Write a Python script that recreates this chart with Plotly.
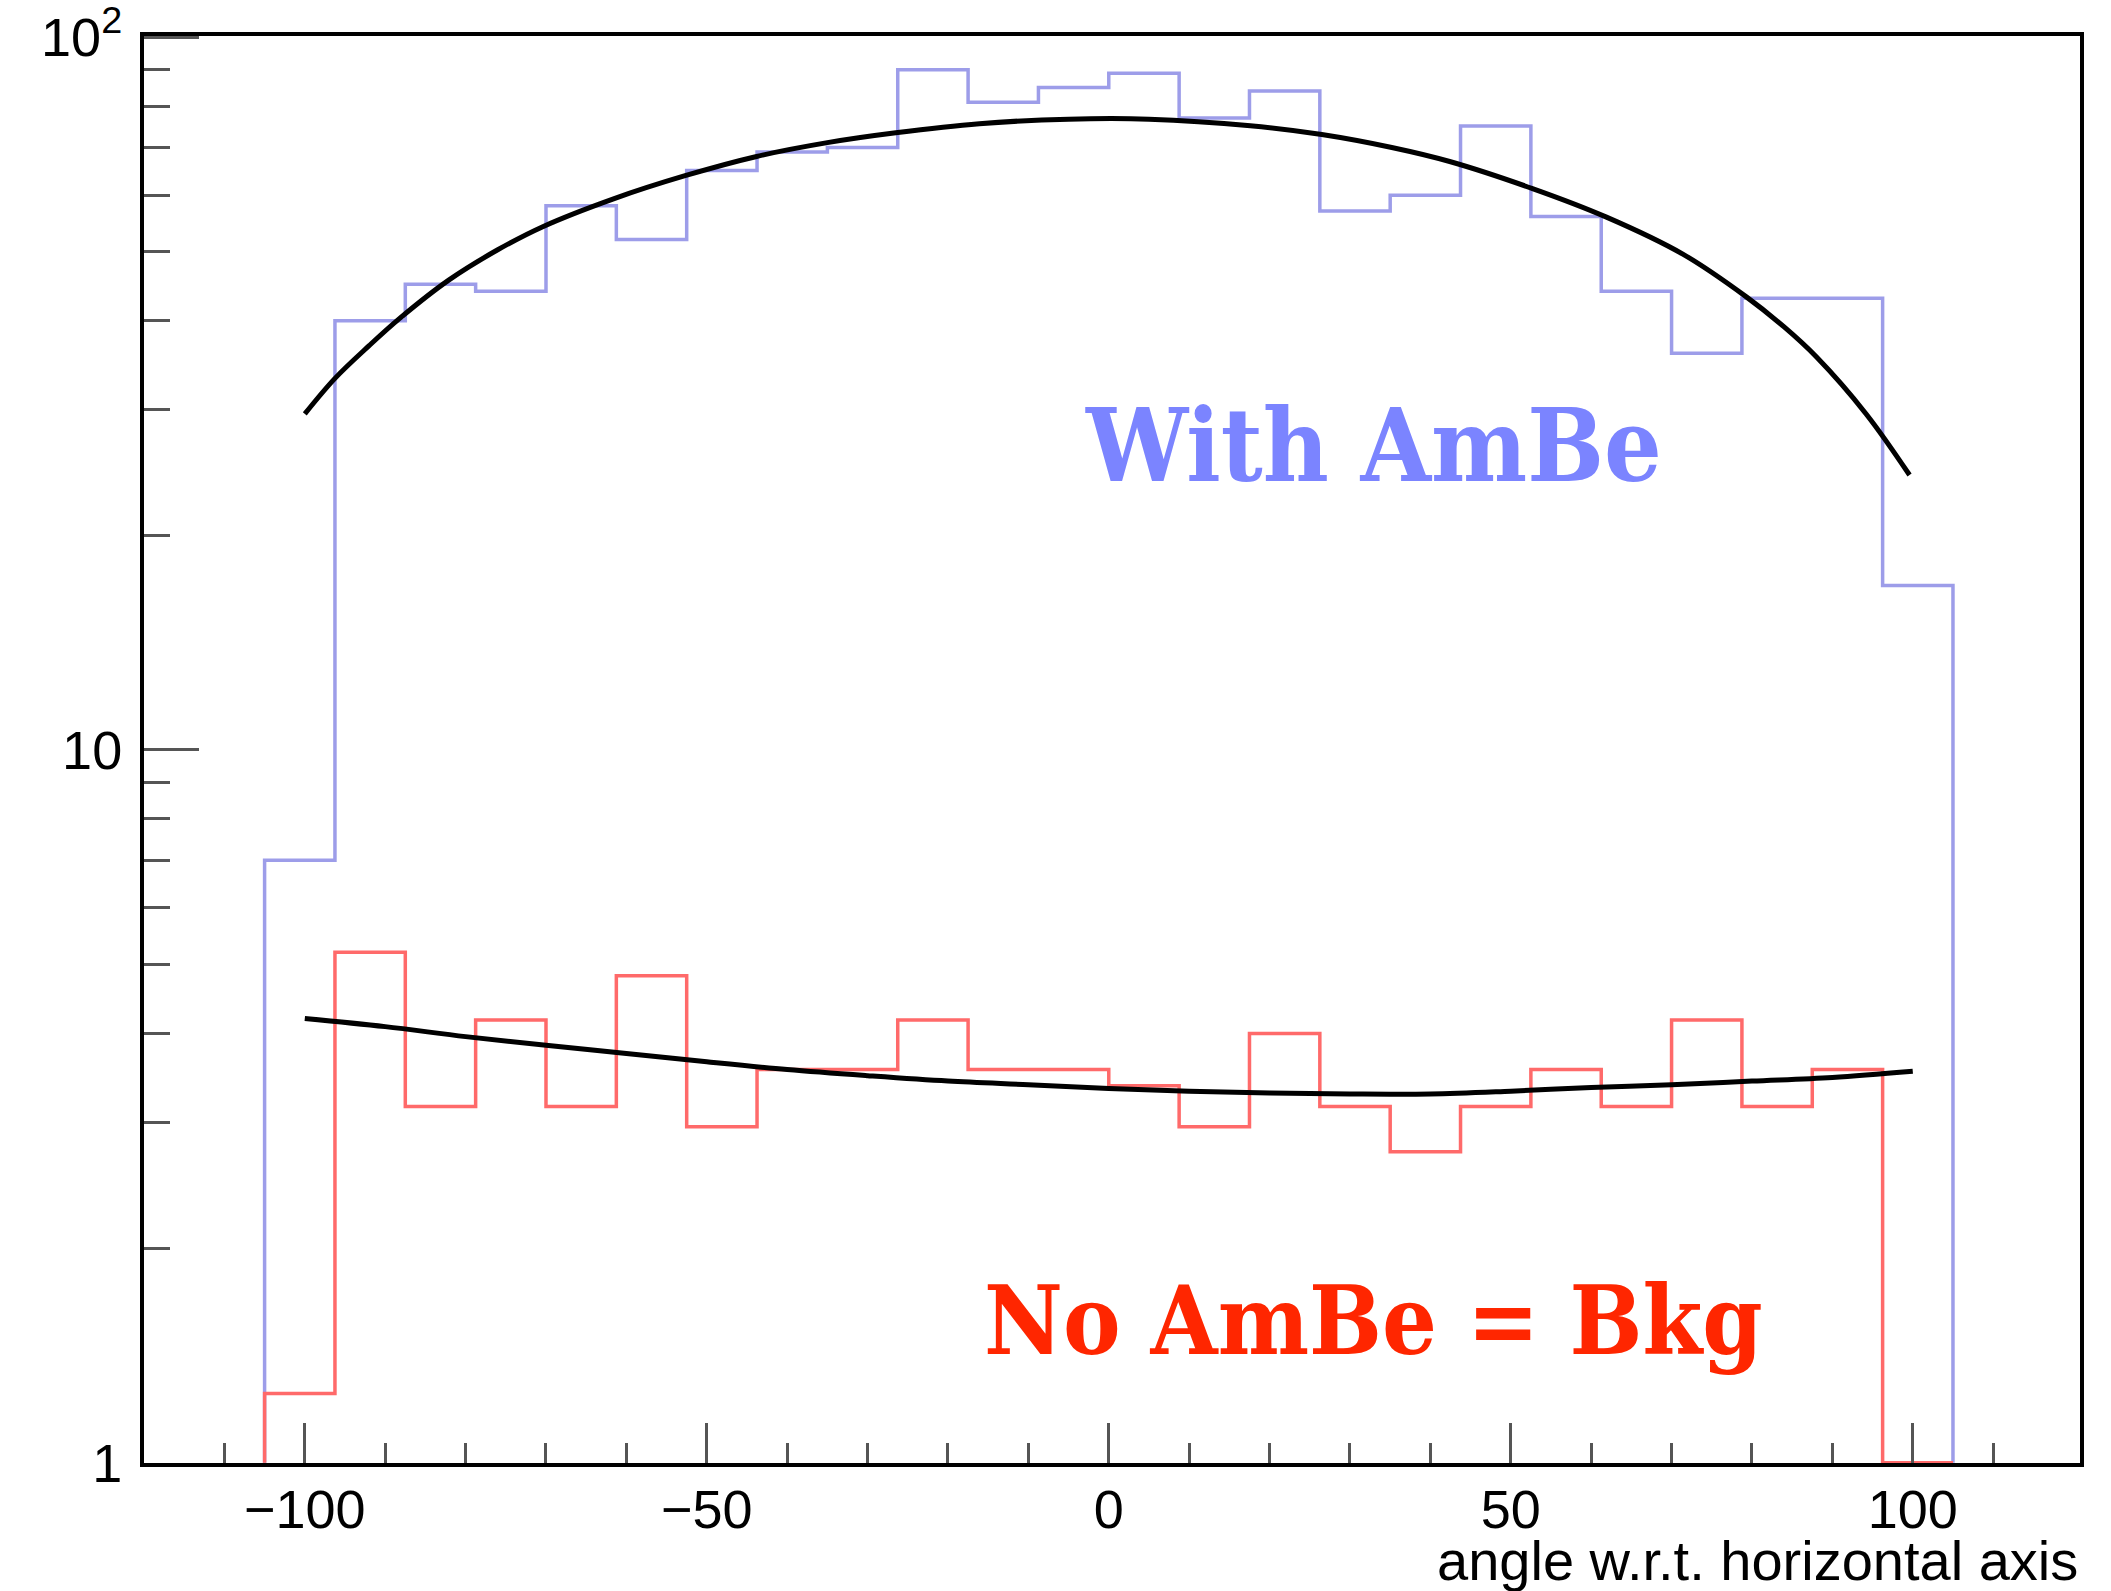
import numpy as np
import plotly.graph_objects as go

# ---------------- data ----------------
bin_edges = np.linspace(-105, 105, 25)  # 24 bins of 8.75 deg

with_ambe = [7, 40, 45, 44, 58, 52, 65, 69, 70, 90, 81, 85,
             89, 77, 84, 57, 60, 75, 56, 44, 36, 43, 43, 17]
no_ambe = [1.25, 5.2, 3.16, 4.18, 3.16, 4.82, 2.96, 3.56, 3.56, 4.18, 3.56, 3.56,
           3.38, 2.96, 4.0, 3.16, 2.73, 3.16, 3.56, 3.16, 4.18, 3.16, 3.56, 0]

fit_with_x = [-100, -96.25, -92, -88.2, -82.1, -76, -70.4, -61.6, -52.7, -43.8, -35, -26.5, -16.1, -5,
              5, 17.6, 26.5, 35.2, 42.4, 52.7, 61.9, 71.4, 79.3, 84, 88.0, 94.2, 99.6]
fit_with_y = [29.6, 33.2, 36.9, 40.3, 45.6, 50.3, 54.2, 59.3, 63.9, 68.0, 71.1, 73.4, 75.6, 76.7,
              76.7, 75.1, 73.0, 70.0, 66.9, 61.3, 55.9, 49.6, 43.2, 39.2, 35.6, 29.6, 24.3]

fit_bkg_x = [-100, -90, -80, -70, -60, -50, -40, -30, -20, -10, 0,
             10, 20, 30, 40, 50, 60, 70, 80, 90, 100]
fit_bkg_y = [4.20, 4.09, 3.96, 3.85, 3.75, 3.65, 3.56, 3.49, 3.43, 3.39, 3.35,
             3.32, 3.30, 3.29, 3.29, 3.32, 3.36, 3.39, 3.43, 3.47, 3.54]

x_major = [-100, -50, 0, 50, 100]
x_major_text = ["\u2212100", "\u221250", "0", "50", "100"]
x_minor = [-110, -90, -80, -70, -60, -40, -30, -20, -10,
           10, 20, 30, 40, 60, 70, 80, 90, 110]
y_major = [1, 10, 100]
y_major_text = ["1", "10", "10<sup>2</sup>"]
y_minor = [2, 3, 4, 5, 6, 7, 8, 9, 20, 30, 40, 50, 60, 70, 80, 90]

label_with = "With AmBe"
label_bkg = "No AmBe = Bkg"
x_title = "angle w.r.t. horizontal axis"

Y_FLOOR = 1.0


def step_xy(edges, vals):
    xs = [edges[0]] + list(edges[:-1]) + [edges[-1]]
    ys = [Y_FLOOR] + [max(v, Y_FLOOR) for v in vals] + [Y_FLOOR]
    return xs, ys


fig = go.Figure()

bx, by = step_xy(bin_edges, with_ambe)
fig.add_trace(go.Scatter(x=bx, y=by, mode="lines", line=dict(shape="hv", color="#9d9de9", width=3.5),
                         showlegend=False))
rx, ry = step_xy(bin_edges, no_ambe)
fig.add_trace(go.Scatter(x=rx, y=ry, mode="lines", line=dict(shape="hv", color="#ff6a6a", width=3.5),
                         showlegend=False))
fig.add_trace(go.Scatter(x=fit_with_x, y=fit_with_y, mode="lines",
                         line=dict(shape="spline", smoothing=1.0, color="black", width=5), showlegend=False))
fig.add_trace(go.Scatter(x=fit_bkg_x, y=fit_bkg_y, mode="lines",
                         line=dict(shape="spline", color="black", width=5), showlegend=False))

tick_font = dict(family="Liberation Sans, Arial, sans-serif", size=54, color="black")

fig.update_xaxes(range=[-120, 120.8], showgrid=False, zeroline=False, automargin=False,
                 showline=True, linecolor="black", linewidth=4, mirror=True,
                 tickmode="array", tickvals=x_major, ticktext=x_major_text,
                 ticks="inside", ticklen=40, tickwidth=3, tickcolor="#555",
                 minor=dict(tickmode="array", tickvals=x_minor, ticks="inside",
                            ticklen=20, tickwidth=3, tickcolor="#555", showgrid=False),
                 tickfont=tick_font, ticklabelstandoff=-4)
fig.update_yaxes(type="log", range=[-0.0005, 2.0015], showgrid=False, zeroline=False, automargin=False,
                 showline=True, linecolor="black", linewidth=4, mirror=True,
                 tickmode="array", tickvals=y_major, ticktext=y_major_text,
                 ticks="inside", ticklen=55, tickwidth=3, tickcolor="#555",
                 minor=dict(tickmode="array", tickvals=y_minor, ticks="inside",
                            ticklen=26, tickwidth=3, tickcolor="#555", showgrid=False),
                 tickfont=tick_font, ticklabelstandoff=7, ticklabeloverflow="allow")

slab = "DejaVu Serif Condensed, DejaVu Serif, serif"
fig.add_annotation(x=32.9, y=1.427, xref="x", yref="y", text="<b>" + label_with + "</b>",
                   showarrow=False, xanchor="center", yanchor="middle",
                   font=dict(family=slab, size=101, color="#7b84ff"))
fig.add_annotation(x=32.9, y=0.199, xref="x", yref="y", text="<b>" + label_bkg + "</b>",
                   showarrow=False, xanchor="center", yanchor="middle",
                   font=dict(family=slab, size=96, color="#ff2600"))
fig.add_annotation(x=1, y=-0.068, xref="paper", yref="paper", text=x_title,
                   showarrow=False, xanchor="right", yanchor="middle",
                   font=dict(family="Liberation Sans, Arial, sans-serif", size=56, color="black"))

fig.update_layout(width=2111, height=1591, margin=dict(l=144, r=31, t=36, b=128, autoexpand=False),
                  paper_bgcolor="white", plot_bgcolor="white")

fig.write_html("out.html")
